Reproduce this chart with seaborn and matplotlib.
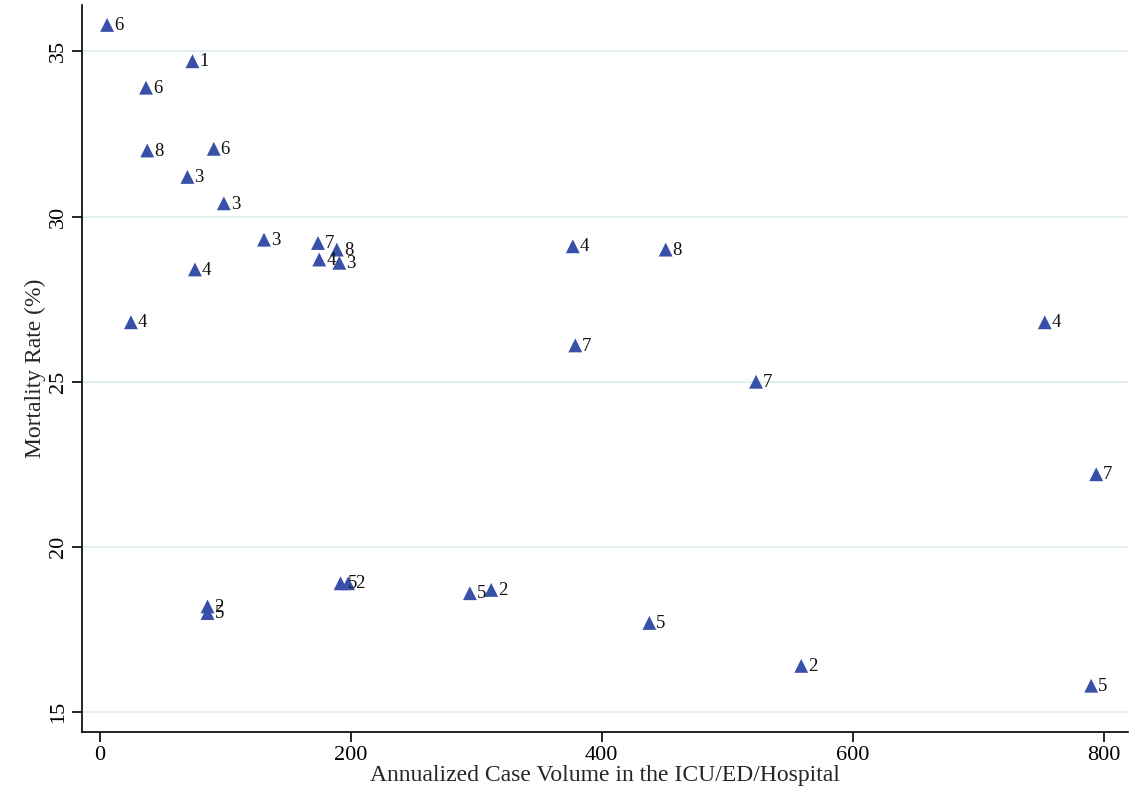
import pandas as pd
import matplotlib
matplotlib.use("Agg")
import matplotlib.pyplot as plt
import seaborn as sns

# values
volume = [6, 74, 37, 38, 91, 70, 99, 131, 174, 189, 175, 191, 76, 25,
          377, 451, 379, 523, 753, 794,
          192, 198, 86, 86, 295, 312, 438, 559, 790]
mortality = [35.8, 34.7, 33.9, 32.0, 32.05, 31.2, 30.4, 29.3, 29.2, 29.0, 28.7, 28.6, 28.4, 26.8,
             29.1, 29.0, 26.1, 25.0, 26.8, 22.2,
             18.9, 18.9, 18.2, 18.0, 18.6, 18.7, 17.7, 16.4, 15.8]
labels = ["6", "1", "6", "8", "6", "3", "3", "3", "7", "8", "4", "3", "4", "4",
          "4", "8", "7", "7", "4", "7",
          "5", "2", "2", "5", "5", "2", "5", "2", "5"]

df = pd.DataFrame({"volume": volume, "mortality": mortality, "label": labels})

sns.set_style("white")
plt.rcParams["font.family"] = ["Liberation Serif", "DejaVu Serif"]

fig = plt.figure(figsize=(11.31, 7.97), dpi=100)
ax = fig.add_axes([0.0725, 0.0816, 0.9245, 0.912])

sns.scatterplot(data=df, x="volume", y="mortality", marker="^", s=100,
                color="#3850a8", edgecolor="none", ax=ax, zorder=3)

for _, r in df.iterrows():
    ax.annotate(r["label"], (r["volume"], r["mortality"]), xytext=(5, -0.5),
                textcoords="offset points", va="center", ha="left",
                fontsize=13.5, color="#111111", zorder=4)

ax.set_xlim(-14, 819)
ax.set_ylim(14.4, 36.4)
ax.set_xticks([0, 200, 400, 600, 800])
ax.set_yticks([15, 20, 25, 30, 35])
ax.yaxis.grid(True, color="#e3eef2", linewidth=1.5)
ax.xaxis.grid(False)
ax.set_axisbelow(True)

for s in ["top", "right"]:
    ax.spines[s].set_visible(False)
for s in ["left", "bottom"]:
    ax.spines[s].set_color("black")
    ax.spines[s].set_linewidth(1.2)

ax.tick_params(axis="both", direction="out", length=7, width=1.2, colors="black",
               labelsize=16, left=True, bottom=True, pad=3)
plt.setp(ax.get_yticklabels(), rotation=90, va="center")

ax.set_xlabel("Annualized Case Volume in the ICU/ED/Hospital", fontsize=17, labelpad=0)
ax.set_ylabel("Mortality Rate (%)", fontsize=17, labelpad=2)

fig.savefig("out.png", dpi=100)
